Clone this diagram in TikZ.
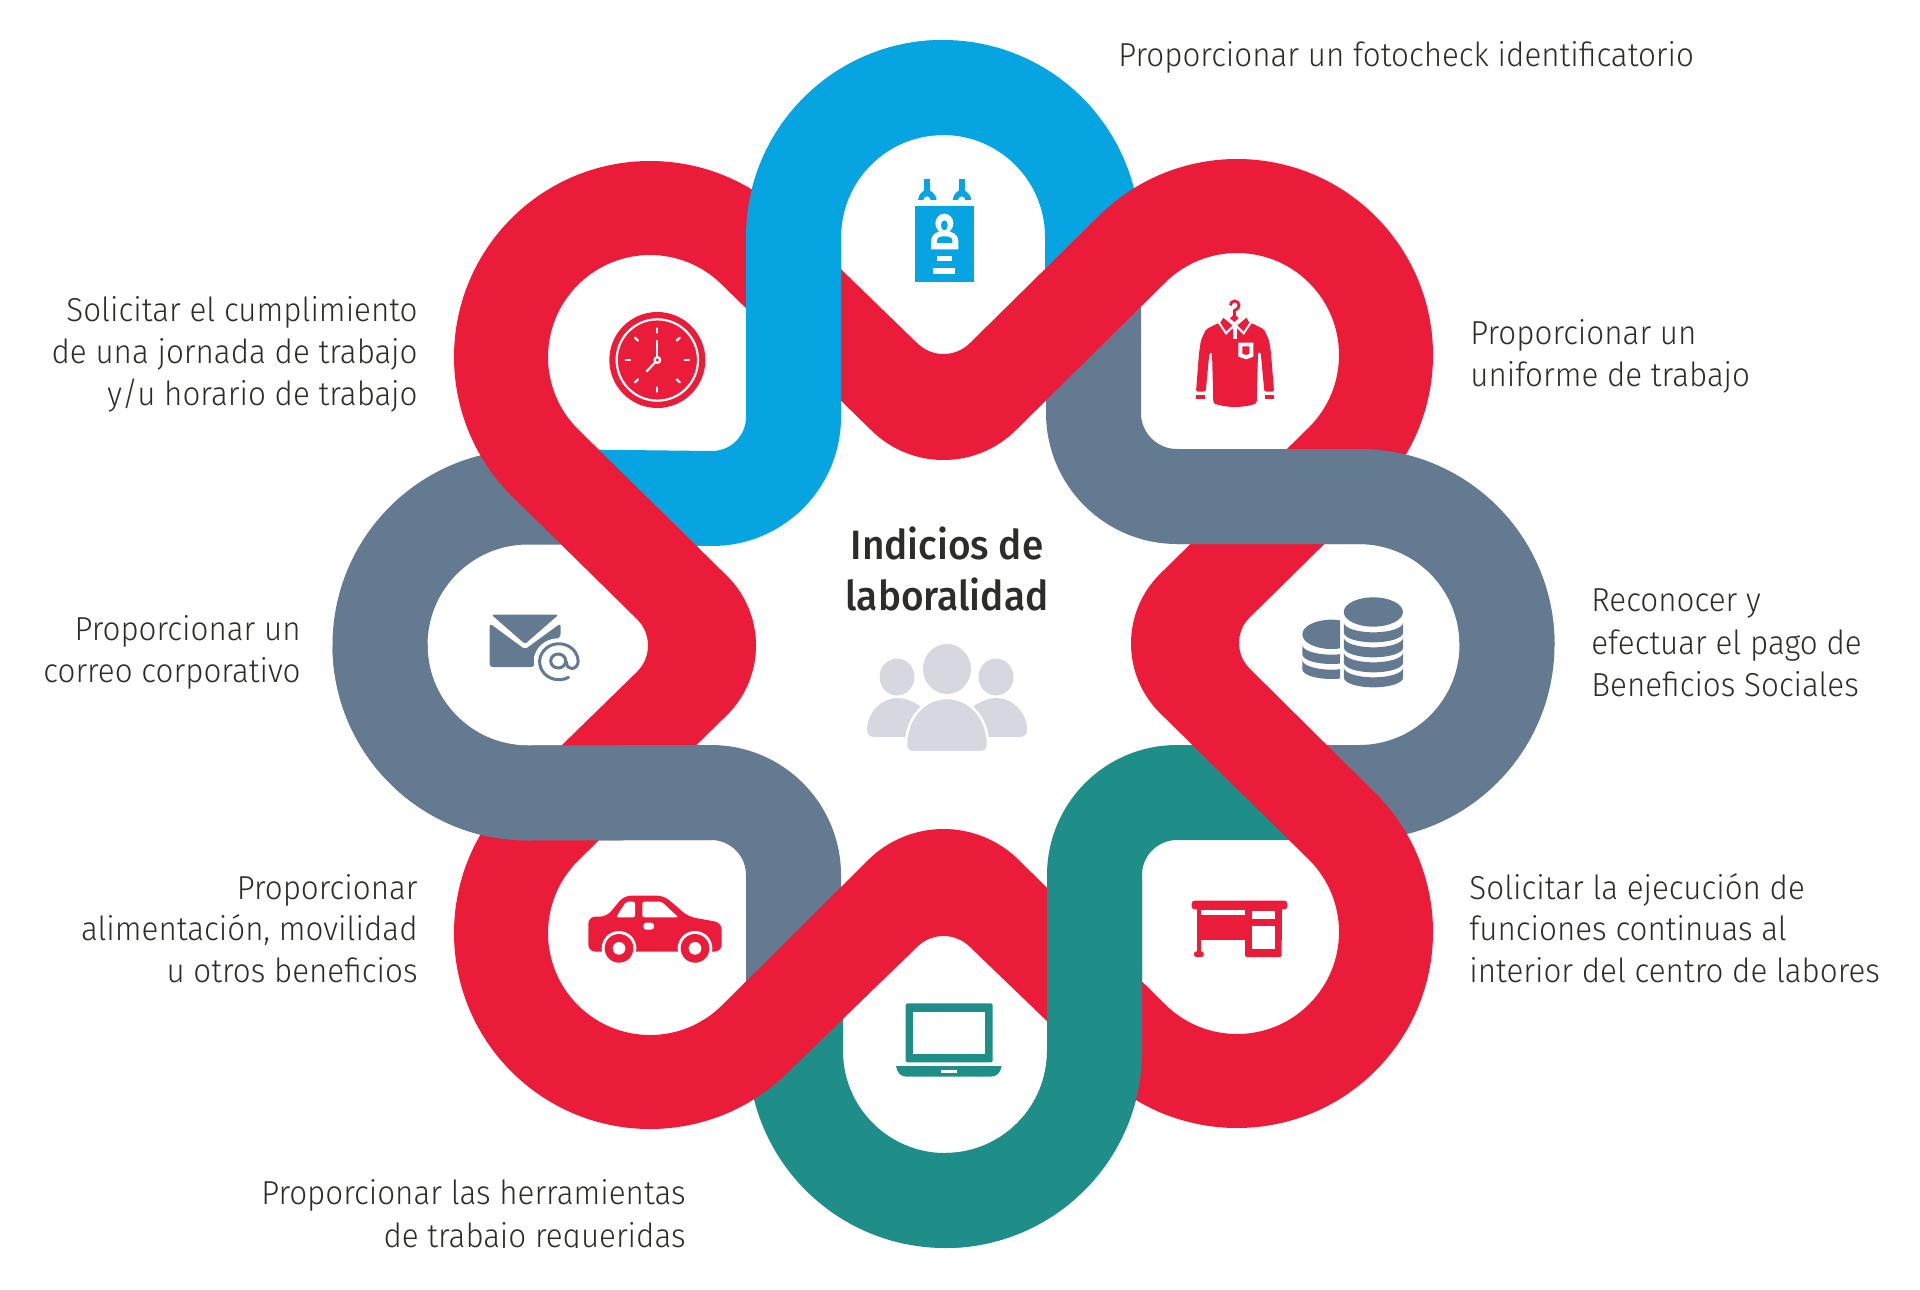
\documentclass[tikz,border=0pt]{standalone}
\usepackage{fontspec}
\setmainfont{Fira Sans}[UprightFont=* Light,BoldFont=* Medium,FakeStretch=0.945]
\definecolor{cblue}{HTML}{06A5E2}
\definecolor{cred}{HTML}{EB1C3A}
\definecolor{cgray}{HTML}{647A91}
\definecolor{cteal}{HTML}{208E88}
\definecolor{cpeople}{HTML}{D5D9DF}
\definecolor{ctext}{HTML}{2E2C27}
\def\seg#1#2#3#4#5{-- ({#1+#3*cos(#4)},{#2+#3*sin(#4)}) arc[start angle=#4,end angle=#5,radius=#3]}
\tikzset{
  band/.style={line width=47.5pt},
  lbl/.style={text=ctext,inner sep=0pt,font=\fontsize{16.6}{20}\selectfont},
  lr/.style={lbl,anchor=base east},
  ll/.style={lbl,anchor=base west},
  ttl/.style={text=ctext,inner sep=0pt,anchor=base,font=\fontsize{20.5}{24}\selectfont\bfseries},
}
\begin{document}
\begin{tikzpicture}[x=0.5pt,y=-0.5pt]
\useasboundingbox (0,0) rectangle (1920,1289);
% --- base ribbons
\draw[band,cblue] (1092.5,290) -- (1092.5,237) arc[start angle=0,end angle=-180,radius=149.5] -- (793.5,417) arc[start angle=0,end angle=90,radius=81.5] -- (580,497);
\draw[band,cgray] (1093.5,290) -- (1093.5,413) arc[start angle=180,end angle=90,radius=83.5] -- (1359,496.5) arc[start angle=-90,end angle=90,radius=148] -- (1300,792.5);
\draw[band,cteal] (795.5,1000) -- (795.5,1051) arc[start angle=180,end angle=0,radius=149.5] -- (1094.5,875) arc[start angle=180,end angle=270,radius=82.5] -- (1300,792.5);
\draw[band,cgray] (580,497) -- (528,497) arc[start angle=270,end angle=90,radius=148] -- (711,792.5) arc[start angle=-90,end angle=0,radius=82.5] -- (793.5,1000);
% --- red closed ribbon
\fill[cred,even odd rule]
 ({650+196*cos(135)},{357+196*sin(135)}) \seg{650}{357}{196}{135}{315}
 \seg{943.5}{316.6}{37.4}{135}{45}
 \seg{1237}{355}{196}{225}{405}
 \seg{1275}{643}{36}{225}{135}
 \seg{1237}{932}{196}{-45}{135}
 \seg{943.5}{973.4}{37.4}{315}{225}
 \seg{650}{933}{196}{45}{225}
 \seg{611}{645.5}{37}{45}{-45} -- cycle
 ({650+102*cos(135)},{357+102*sin(135)}) \seg{650}{357}{102}{135}{315}
 \seg{943.5}{357.4}{102.6}{135}{45}
 \seg{1237}{355}{102}{225}{405}
 \seg{1229}{643.5}{98}{225}{135}
 \seg{1237}{932}{102}{-45}{135}
 \seg{943.5}{936}{107}{315}{225}
 \seg{650}{933}{102}{45}{225}
 \seg{658}{645.5}{98}{45}{-45} -- cycle;
% --- ribbon parts that pass over the red
\draw[band,cblue] (793.5,420) -- (793.5,237) arc[start angle=180,end angle=270,radius=149.5];
\draw[band,cgray] (1177,496.5) -- (1359,496.5) arc[start angle=-90,end angle=0,radius=148];
\draw[band,cteal] (1094.5,880) -- (1094.5,1051) arc[start angle=0,end angle=90,radius=149.5];
\draw[band,cgray] (380,645) arc[start angle=180,end angle=90,radius=148] -- (711,792.5);
% --- badge
\begin{scope}[shift={(720,20)},scale=1/3]
 \fill[cblue] (584,558) rectangle (763,787);
 \foreach \dx in {0,104}{
  \fill[cblue,shift={(\dx,0)}] (612,477) rectangle (631,512);
  \fill[cblue,shift={(\dx,0)}] (594,540) .. controls (596,522) and (608,512) .. (621,508) .. controls (634,512) and (648,522) .. (650,540) -- (632,540) arc[start angle=0,end angle=-180,radius=11] -- cycle;
 }
 \fill[white] (673,610) ellipse[x radius=27,y radius=29];
 \fill[cblue] (673,616) ellipse[x radius=10,y radius=15];
 \fill[white] (633,688) -- (633,662) .. controls (634,645) and (650,632) .. (673,632) .. controls (698,632) and (714,645) .. (715,662) -- (715,688) -- cycle;
 \fill[cblue] (651,669) -- (651,662) .. controls (652,652) and (660,649) .. (673,649) .. controls (688,649) and (696,652) .. (697,662) -- (697,669) -- cycle;
 \fill[white] (650,707) rectangle (696,724);
 \fill[white] (640,744) rectangle (706,762);
\end{scope}
% --- clock
\begin{scope}[shift={(420,140)},scale=1/3]
 \fill[cred] (712,660) circle[radius=144];
 \draw[white,line width=1.1pt] (712,660) circle[radius=122];
 \foreach \a in {0,45,...,315}{
  \draw[white,line width=1.1pt,line cap=round] ({712+82*cos(\a)},{660+82*sin(\a)}) -- ({712+95*cos(\a)},{660+95*sin(\a)});
 }
 \draw[white,line width=1.1pt,line cap=round] (712,660) -- (712,602);
 \draw[white,line width=1.1pt,line cap=round] (712,660) -- (680,694);
 \fill[white] (712,660) circle[radius=12];
 \fill[cred] (712,660) circle[radius=5];
\end{scope}
% --- shirt
\begin{scope}[shift={(1120,140)},scale=1/3]
 \fill[cred,rounded corners=0.8pt] (298,548) -- (258,568) -- (243,600) -- (237,640) -- (228,755) -- (257,755) -- (268,640) -- (276,636) -- (280,790)
   .. controls (320,804) and (370,804) .. (410,790) -- (414,636) -- (422,636) -- (433,755) -- (462,755) -- (453,640) -- (447,600) -- (432,568) -- (392,548) -- (372,580) -- (345,560) -- (318,580) -- cycle;
 \fill[cred] (227,765) rectangle (256,778);
 \fill[cred] (434,765) rectangle (463,778);
 \draw[white,line width=1pt,fill=cred] (297,548) -- (309,528) -- (342,556) -- (318,580) -- cycle;
 \draw[white,line width=1pt,fill=cred] (392,548) -- (380,528) -- (347,556) -- (371,580) -- cycle;
 \draw[white,line width=1.6pt] (345,560) -- (345,598);
 \fill[cred] (330,535) -- (343,522) -- (356,535) -- (343,546) -- cycle;
 \draw[cred,line width=1.4pt] (331,496) arc[start angle=180,end angle=400,radius=13] -- (343,512) -- (343,526);
 \fill[white] (355,608) -- (400,608) -- (400,650) -- (378,658) -- (355,650) -- cycle;
 \fill[cred] (367,619) -- (388,619) -- (388,641) -- (378,645) -- (367,641) -- cycle;
\end{scope}
% --- coins
\begin{scope}[shift={(1040,430)},xscale=1/2.958,yscale=1/3]
 \fill[cgray] (986,546) ellipse[x radius=87.5,y radius=44];
 \foreach \dy in {0,45,90,135}{
  \fill[cgray] (899,{578+\dy}) arc[start angle=180,end angle=0,x radius=87.5,y radius=29] -- ++(0,30) arc[start angle=0,end angle=180,x radius=87.5,y radius=29] -- cycle;
 }
 \begin{scope}
  \clip (760,540) rectangle (888,770);
  \fill[cgray] (862,613) ellipse[x radius=86,y radius=44];
  \foreach \dy in {0,45}{
   \fill[cgray] (776,{645+\dy}) arc[start angle=180,end angle=0,x radius=86,y radius=29] -- ++(0,28) arc[start angle=0,end angle=180,x radius=86,y radius=29] -- cycle;
  }
 \end{scope}
\end{scope}
% --- desk
\begin{scope}[shift={(1170,880)},scale=1/3]
 \fill[cred,rounded corners=1.5pt] (65,62) rectangle (352,88);
 \fill[cred] (80,85) rectangle (93,220);
 \fill[cred,rounded corners=1.2pt] (72,214) rectangle (101,231);
 \fill[cred] (80,85) rectangle (335,181);
 \fill[cred,rounded corners=1pt] (225,85) rectangle (335,231);
 \fill[white] (93,90) rectangle (225,104);
 \fill[white] (245,93) rectangle (316,118);
 \fill[white] (245,138) rectangle (316,208);
\end{scope}
% --- laptop
\begin{scope}[shift={(740,780)},scale=1/3]
 \fill[cteal,rounded corners=1pt] (497,670) rectangle (758,847);
 \fill[white] (519,695) rectangle (735,822);
 \fill[cteal] (468,858) -- (785,858) .. controls (782,878) and (770,890) .. (752,890) -- (500,890) .. controls (482,890) and (471,878) .. (468,858) -- cycle;
 \fill[white] (603,869) rectangle (651,880);
\end{scope}
% --- car
\begin{scope}[shift={(440,780)},scale=1/3]
 \fill[cred,rounded corners=3.5pt] (445,410) -- (500,410) -- (552,347) -- (672,347) -- (745,410) -- (845,428) -- (845,515) -- (445,515) -- cycle;
 \fill[white,rounded corners=1pt] (528,412) -- (558,365) -- (585,365) -- (585,412) -- cycle;
 \fill[white,rounded corners=1pt] (607,365) -- (665,365) -- (715,412) -- (607,412) -- cycle;
 \fill[white,rounded corners=1.5pt] (610,428) rectangle (642,449);
 \foreach \x in {537,765}{
  \fill[white] (\x,505) circle[radius=52];
  \fill[cred] (\x,505) circle[radius=43];
  \fill[white] (\x,505) circle[radius=19];
 }
\end{scope}
% --- envelope
\begin{scope}[shift={(320,440)},xscale=1/2.8,yscale=1/3]
 \fill[cgray,rounded corners=1.2pt] (480,524) -- (668,524) -- (574,612) -- cycle;
 \fill[cgray,rounded corners=1.5pt] (475,550) -- (574,628) -- (674,550) -- (674,590) -- (600,640) -- (600,681) -- (475,681) -- cycle;
 \fill[white] (667,663) circle[radius=68];
 \draw[cgray,line width=1.5pt] (667,663) circle[radius=21];
 \draw[cgray,line width=1.5pt,line cap=round] (696,712) arc[start angle=60,end angle=360,radius=54] .. controls (721,690) and (690,695) .. (690,665);
\end{scope}
% --- people
\fill[cpeople] (897,677) ellipse[x radius=17.5,y radius=18.5];
\fill[cpeople] (996,677) ellipse[x radius=17.5,y radius=18.5];
\fill[cpeople] (867,730) .. controls (867,712) and (882,698) .. (897,698) .. controls (912,698) and (925,708) .. (932,720) -- (932,737) -- (875,737) .. controls (870,737) and (867,735) .. (867,730) -- cycle;
\fill[cpeople] (1027,730) .. controls (1027,712) and (1012,698) .. (997,698) .. controls (982,698) and (968,708) .. (961,720) -- (961,737) -- (1019,737) .. controls (1024,737) and (1027,735) .. (1027,730) -- cycle;
\fill[cpeople] (947,669) ellipse[x radius=24,y radius=25];
\draw[white,line width=1.2pt,fill=cpeople] (906,745) .. controls (906,718) and (924,698) .. (947,698) .. controls (970,698) and (988,718) .. (988,745) .. controls (988,750) and (985,752) .. (981,752) -- (913,752) .. controls (909,752) and (906,750) .. (906,745) -- cycle;
% --- title
\node[ttl] (t1) at (947,559) {Indicios de};
\node[ttl] (t2) at (947,610) {laboralidad};
% --- labels
\node[ll] (a1) at (1118,67) {Proporcionar un fotocheck identificatorio};
\node[ll] (b1) at (1470,344) {Proporcionar un};
\node[ll] (b2) at (1470,386) {uniforme de trabajo};
\node[ll] (c1) at (1591,611) {Reconocer y};
\node[ll] (c2) at (1591,654) {efectuar el pago de};
\node[ll] (c3) at (1591,696) {Beneficios Sociales};
\node[ll] (d1) at (1469,899) {Solicitar la ejecución de};
\node[ll] (d2) at (1469,940) {funciones continuas al};
\node[ll] (d3) at (1469,982) {interior del centro de labores};
\node[lr] (e1) at (686,1204) {Proporcionar las herramientas};
\node[lr] (e2) at (686,1247) {de trabajo requeridas};
\fill[white] (250,1248) rectangle (700,1289);
\node[lr] (f1) at (418,899) {Proporcionar};
\node[lr] (f2) at (418,940) {alimentación, movilidad};
\node[lr] (f3) at (418,982) {u otros beneficios};
\node[lr] (g1) at (301,640) {Proporcionar un};
\node[lr] (g2) at (301,682) {correo corporativo};
\node[lr] (h1) at (418,321) {Solicitar el cumplimiento};
\node[lr] (h2) at (418,363) {de una jornada de trabajo};
\node[lr] (h3) at (418,405) {y/u horario de trabajo};
\end{tikzpicture}
\end{document}
